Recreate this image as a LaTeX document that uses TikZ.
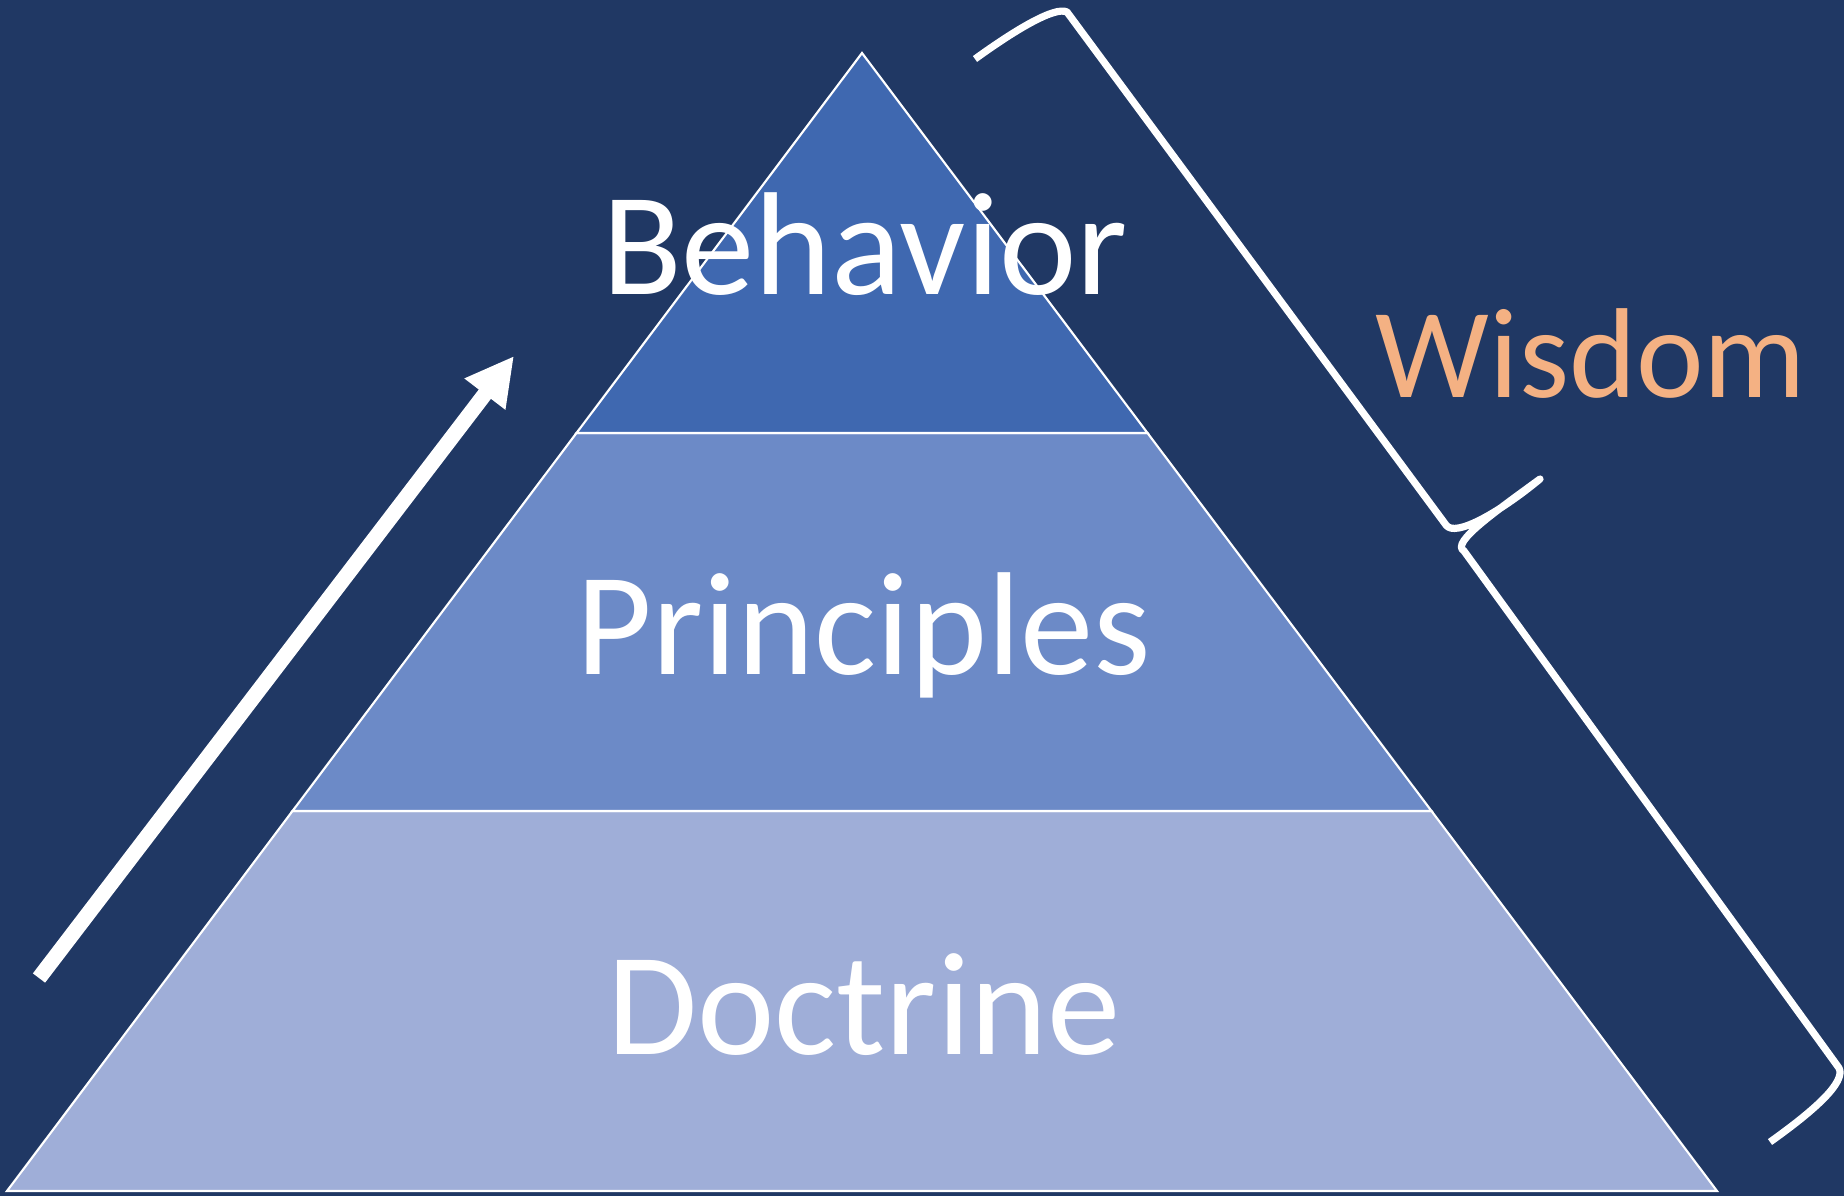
\documentclass[tikz,border=0pt]{standalone}
\usepackage{fontspec}
\setmainfont{Carlito}
\usetikzlibrary{arrows.meta}
\definecolor{bg}{HTML}{203864}
\definecolor{layerA}{HTML}{3F68B0}
\definecolor{layerB}{HTML}{6C8AC7}
\definecolor{layerC}{HTML}{9FAED8}
\definecolor{wis}{HTML}{F4B183}
\tikzset{
  layer/.style={draw=white, line width=1.6},
  lbl/.style={anchor=base, inner sep=0pt, text=white, font=\fontsize{110}{132}\selectfont},
  bracepath/.style={draw=white, line width=5.4pt, line join=round, line cap=butt},
  uparrow/.style={draw=white, line width=11.5pt, -{Triangle[length=36pt,width=36pt]}}
}
\begin{document}
\begin{tikzpicture}[x=0.75pt,y=-0.75pt]
\useasboundingbox (0,0) rectangle (1844,1196);
\fill[bg] (0,0) rectangle (1844,1196);
% pyramid corner coordinates
\coordinate (apex) at (862,53);
\coordinate (l1) at (576.5,433);
\coordinate (r1) at (1147.5,433);
\coordinate (l2) at (292.5,811);
\coordinate (r2) at (1431.5,811);
\coordinate (bl) at (7,1191);
\coordinate (br) at (1717,1191);
% layers
\path[layer, fill=layerC] (l2) -- (r2) -- (br) -- (bl) -- cycle;
\path[layer, fill=layerB] (l1) -- (r1) -- (r2) -- (l2) -- cycle;
\path[layer, fill=layerA] (apex) -- (r1) -- (l1) -- cycle;
% labels
\node[lbl] (behavior) at (865,294) {Behavior};
\node[lbl] (principles) at (864,674) {Principles};
\node[lbl] (doctrine) at (864,1054) {Doctrine};
\node[anchor=base, inner sep=0pt, text=wis, font=\fontsize{96}{115}\selectfont] (wisdom) at (1591,397) {Wisdom};
% arrow
\coordinate (arrS) at (39,978);
\coordinate (arrT) at (514,356);
\draw[uparrow] (arrS) -- (arrT);
% brace
\coordinate (bT) at (975,59);
\coordinate (bC1) at (1067,12);
\coordinate (bC2) at (1446,525);
\coordinate (bTip) at (1540,479);
\coordinate (bC3) at (1464,551);
\coordinate (bC4) at (1839,1068);
\coordinate (bE) at (1770,1142);
\path[bracepath] (bT) .. controls (1015,30) and (1055,6) .. (bC1)
  -- (bC2) .. controls (1455,538) and (1500,512) .. (bTip)
  .. controls (1495,512) and (1450,543) .. (bC3)
  -- (bC4) .. controls (1846,1082) and (1815,1110) .. (bE);
\end{tikzpicture}
\end{document}
